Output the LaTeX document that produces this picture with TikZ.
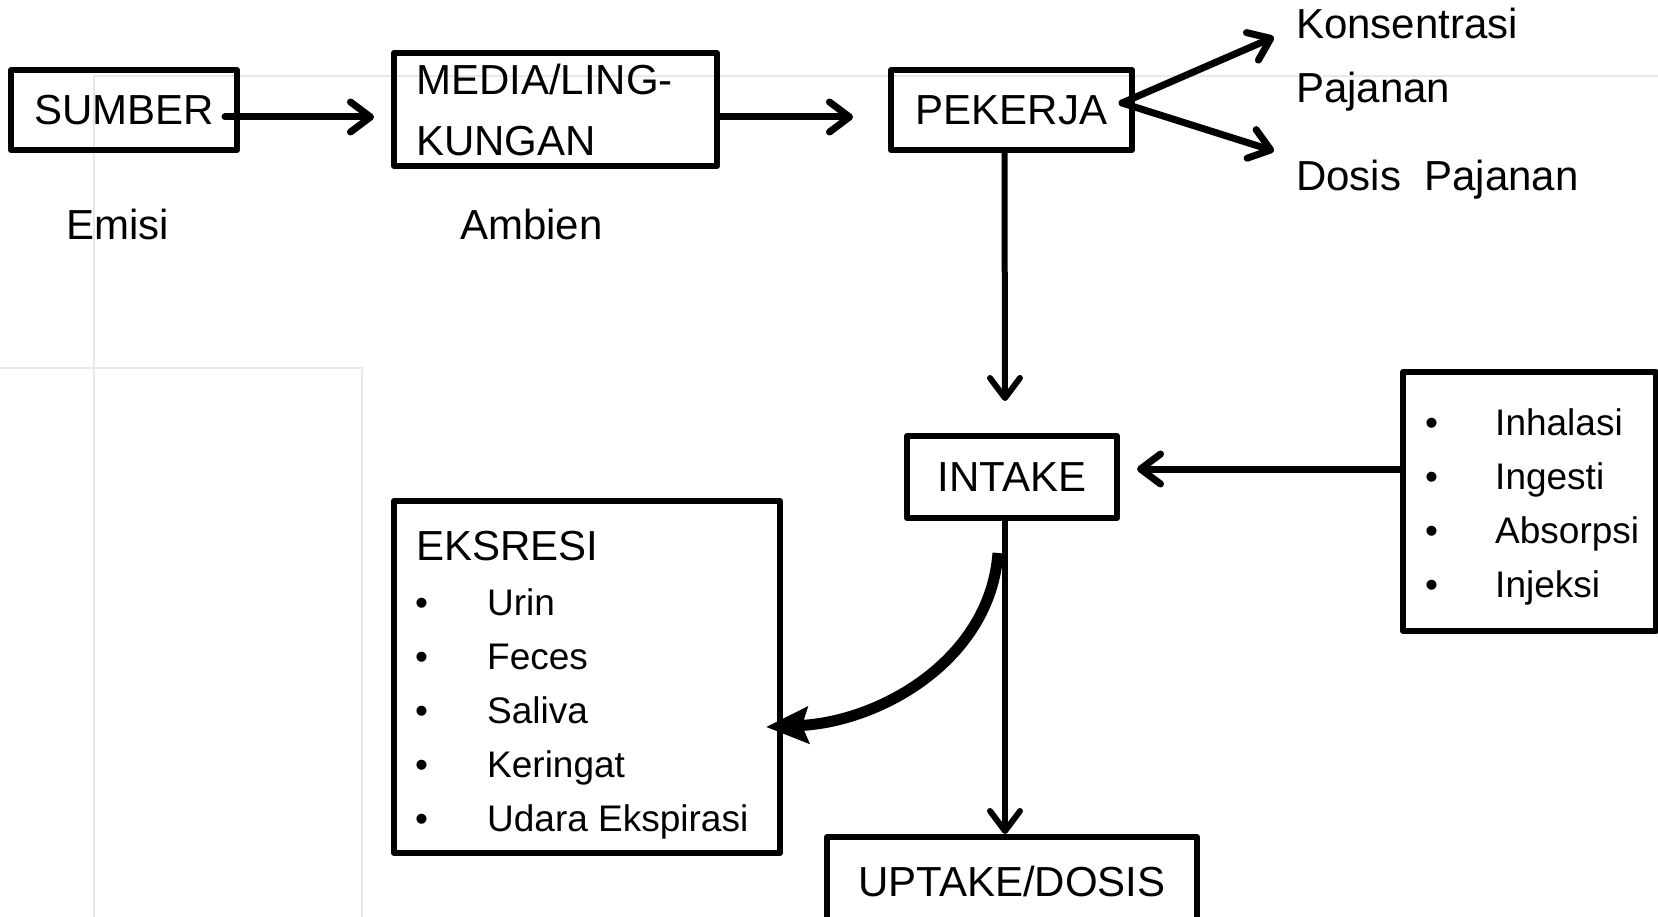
\documentclass[tikz,border=0pt]{standalone}
\usepackage{fontspec}
\setmainfont{Liberation Sans}
\usetikzlibrary{arrows.meta}
\begin{document}
\begin{tikzpicture}[x=1pt,y=-1pt,
  box/.style={draw, line width=6pt, line join=round, inner sep=0pt},
  big/.style={font=\fontsize{42}{50}\selectfont},
  small/.style={font=\fontsize{37}{44}\selectfont},
  txt/.style={anchor=base west, inner sep=0pt},
  conn/.style={line width=7pt, line cap=round, -{Straight Barb[length=20pt,width=30pt,line cap=round,line join=round]}},
  faint/.style={draw=black!9, line width=2.5pt}
]
\useasboundingbox (0,0) rectangle (1658,917);
\clip (0,0) rectangle (1658,917);
% faint background lines
\draw[faint] (94,917) -- (94,76) -- (1658,76);
\draw[faint] (0,368) -- (362,368) -- (362,917);

% boxes
\node[box, big, minimum width=226pt, minimum height=80pt] (sumber) at (124,110) {SUMBER};
\node[box, minimum width=323pt, minimum height=113pt] (media) at (555.5,109.5) {};
\node[big, txt] (media1) at (416,95) {MEDIA/LING-};
\node[big, txt] (media2) at (416,156) {KUNGAN};
\node[box, big, minimum width=241pt, minimum height=80pt] (pekerja) at (1011.5,110) {PEKERJA};
\node[box, big, minimum width=210pt, minimum height=82pt] (intake) at (1012,477) {INTAKE};
\node[box, big, minimum width=370pt, minimum height=88pt] (uptake) at (1012,881) {UPTAKE/DOSIS};
\node[box, minimum width=253pt, minimum height=259pt] (route) at (1529.5,501.5) {};
\node[box, minimum width=386pt, minimum height=352pt] (eks) at (587,677) {};

% labels
\node[big, txt] (emisi) at (66,240) {Emisi};
\node[big, txt] (ambien) at (460,240) {Ambien};
\node[big, txt] (kons1) at (1296,39) {Konsentrasi};
\node[big, txt] (kons2) at (1296,103) {Pajanan};
\node[big, txt] (dosis) at (1296,191) {Dosis\ \ Pajanan};

% excretion list
\node[big, txt] (eksh) at (416,560) {EKSRESI};
\foreach \t [count=\i] in {Urin,Feces,Saliva,Keringat,Udara Ekspirasi} {
  \node[small, txt] (eb\i) at (415,561+54*\i) {\textbullet};
  \node[small, txt] (et\i) at (487,561+54*\i) {\t};
}
% route list
\foreach \t [count=\i] in {Inhalasi,Ingesti,Absorpsi,Injeksi} {
  \node[small, txt] (rb\i) at (1425,381+54*\i) {\textbullet};
  \node[small, txt] (rt\i) at (1495,381+54*\i) {\t};
}

% connectors
\coordinate (k1) at (1274,37);
\coordinate (k2) at (1274,151);
\draw[conn] ([xshift=-15pt,yshift=-7pt]sumber.east) -- ([xshift=-17pt,yshift=-7.5pt]media.west);
\draw[conn] ([yshift=-7.5pt]media.east) -- ([xshift=-35pt,yshift=-7pt]pekerja.west);
\draw[conn] ([xshift=-13pt,yshift=7pt]pekerja.east) -- (k1);
\draw[conn] ([xshift=-13pt,yshift=7pt]pekerja.east) -- (k2);
\draw[conn, line width=6pt] ([xshift=-7pt]pekerja.south) -- ([xshift=-7pt,yshift=32pt]intake.north);
\draw[conn] ([yshift=32.5pt]route.west) -- ([xshift=17pt,yshift=8pt]intake.east);
\draw[conn, line width=6pt] ([xshift=-7pt]intake.south) -- ([xshift=-7pt]uptake.north);
\draw[line width=11pt, -{Stealth[length=42pt,width=36pt,inset=6pt]}]
  ([xshift=-14pt,yshift=-32pt]intake.south) .. controls (990,660) and (880,722) .. ([xshift=-17pt,yshift=-50pt]eks.east);
\end{tikzpicture}
\end{document}
